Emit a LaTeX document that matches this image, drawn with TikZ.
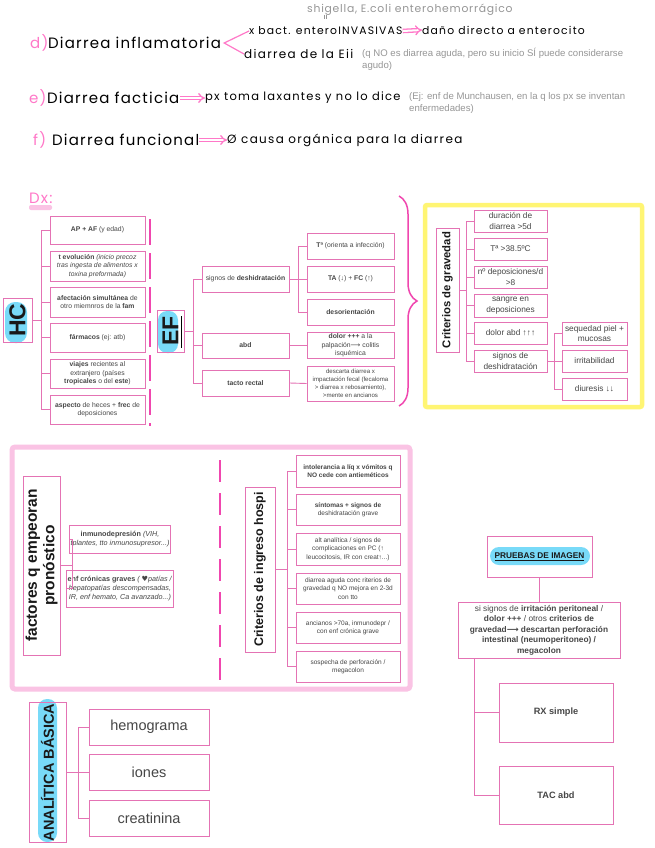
\documentclass[tikz,border=0pt]{standalone}
\usepackage{fontspec}
\setmainfont{Liberation Sans}
\newfontfamily\handA[LetterSpace=8]{Poppins}
\newfontfamily\handB[LetterSpace=11]{Poppins}
\newfontfamily\handC[LetterSpace=7]{Poppins}
\newfontfamily\sym{DejaVu Sans}
\usetikzlibrary{arrows.meta,decorations.pathreplacing}
\definecolor{bpink}{RGB}{228,115,180}
\definecolor{dpink}{RGB}{240,70,175}
\definecolor{lpink}{RGB}{250,195,228}
\definecolor{hpink}{RGB}{255,120,200}
\definecolor{ylw}{RGB}{255,245,115}
\definecolor{cyn}{RGB}{120,218,248}
\definecolor{tg}{RGB}{70,70,70}
\definecolor{ng}{RGB}{150,150,150}
\definecolor{lblk}{RGB}{25,25,25}
\newcommand{\Bx}[7][]{\node[bx,#1,minimum width={#5-#3},minimum height={#6-#4}] (#2) at ({(#3+#5)/2},{(#4+#6)/2}) {#7};}
\newcommand{\Lb}[7][]{\node[lbl,#1,minimum width={#6-#4},minimum height={#5-#3}] (#2) at ({(#3+#5)/2},{(#4+#6)/2}) {#7};}
\begin{document}
\begin{tikzpicture}[x=1pt,y=-1pt,
 bx/.style={draw=bpink, line width=0.9pt, fill=white, text=tg, align=center, inner sep=1pt, font=\fontsize{6.8}{8.4}\selectfont},
 ln/.style={draw=bpink, line width=0.9pt},
 lbl/.style={draw=bpink, line width=0.9pt, rotate=90, align=center, inner sep=1pt, text=lblk},
 hw/.style={anchor=west, inner sep=0pt, font=\handB\fontsize{12}{14}\selectfont, text=black},
 hwsm/.style={hw, font=\handB\fontsize{10.8}{13}\selectfont},
 hwbig/.style={hw, font=\handA\fontsize{15}{17}\selectfont},
 note/.style={anchor=north west, inner sep=0pt, align=left, text=ng, font=\fontsize{9.6}{12}\selectfont},
 dbl/.style={draw=hpink, double=white, double distance=2pt, line width=1.3pt, -{Implies}},
 pdash/.style={draw=dpink, line width=2pt, dash pattern=on 26pt off 8pt},
 fG/.style={font=\fontsize{8.3}{10.3}\selectfont},
 fH/.style={font=\fontsize{6.5}{8.3}\selectfont},
 fF/.style={font=\fontsize{7.2}{9}\selectfont},
 fP/.style={font=\fontsize{8.3}{10.5}\selectfont},
 fL/.style={font=\fontsize{14.5}{16}\selectfont},
]
\fill[white] (0,0) rectangle (655,848);
\useasboundingbox (0,0) rectangle (655,848);

% ---------- top handwritten part ----------
\node[hwbig, text=hpink] (dl) at (30,43) {d)};
\node[hwbig] (dinf) at (48,43) {Diarrea inflamatoria};
\node[hwsm] (bact) at (249,31) {x bact. enteroINVASIVAS};
\node[hwsm] (dano) at (422,30) {daño directo a enterocito};
\node[hw, text=ng, font=\handC\fontsize{10.8}{12}\selectfont] (shig) at (307,10) {shigella, E.coli enterohemorrágico};
\draw[ng, line width=0.5pt] (324,15) -- (324,19) (326.5,15) -- (326.5,19);
\node[hw] (eii) at (244,54) {diarrea de la Eii};
\node[note] (n1) at (362,48) {(q NO es diarrea aguda, pero su inicio SÍ puede considerarse\\agudo)};
\draw[draw=hpink, line width=1.2pt] (bact.west) -- ([xshift=3pt]dinf.east) -- (eii.west);
\draw[dbl] (bact.east) -- (dano.west);

\node[hwbig, text=hpink] (el) at (29,98) {e)};
\node[hwbig] (dfac) at (47,98) {Diarrea facticia};
\node[hw, font=\handB\fontsize{11.5}{14}\selectfont] (px) at (205,98) {px toma laxantes y no lo dice};
\node[note] (n2) at (409,92) {(Ej: enf de Munchausen, en la q los px se inventan\\enfermedades)};
\draw[dbl] (dfac.east) -- (px.west);

\node[hwbig, text=hpink] (fl) at (33,140) {f)};
\node[hwbig] (dfun) at (52,140) {Diarrea funcional};
\node[hw] (caus) at (227,140) {Ø causa orgánica para la diarrea};
\draw[dbl] (dfun.east) -- (caus.west);

% ---------- Dx ----------
\fill[lpink, rounded corners=2pt] (29,205) rectangle (52,210);
\node[hwbig, text=hpink] (dx) at (29,198) {Dx:};

% HC
\fill[cyn, rounded corners=10pt] (5,302) rectangle (27,343);
\Lb[font=\fontsize{23}{25}\selectfont\bfseries]{hc}{3}{298}{32}{342}{HC}
\Bx{hc1}{50}{216}{145}{244}{\textbf{AP + AF} (y edad)}
\Bx{hc2}{50}{251}{145}{281}{\textbf{t evolución} \textit{(inicio precoz}\\\textit{tras ingesta de alimentos x}\\\textit{toxina preformada)}}
\Bx{hc3}{50}{287}{145}{317}{\textbf{afectación simultánea} de\\otro miemnros de la \textbf{fam}}
\Bx{hc4}{50}{323}{145}{352}{\textbf{fármacos} (ej: atb)}
\Bx{hc5}{50}{359}{145}{388}{\textbf{viajes} recientes al\\extranjero (países\\\textbf{tropicales} o del \textbf{este})}
\Bx{hc6}{50}{395}{145}{424}{\textbf{aspecto} de heces + \textbf{frec} de\\deposiciones}
\draw[ln] (hc.south) -- ++(9,0) coordinate (hcj);
\foreach \n in {hc1,hc2,hc3,hc4,hc5,hc6} \draw[ln] (hcj) |- (\n.west);

\draw[pdash] (150,219) -- (150,426);

% EF
\fill[cyn, rounded corners=9pt] (158,311) rectangle (178,353);
\Lb[font=\fontsize{23}{25}\selectfont\bfseries]{ef}{157}{310}{184}{352}{EF}
\draw[black, line width=0.6pt] (181,316) -- (181,348);
\Bx{ef1}{202}{266}{289}{292}{signos de \textbf{deshidratación}}
\Bx{ef2}{202}{333}{289}{358}{\textbf{abd}}
\Bx{ef3}{202}{370}{289}{396}{\textbf{tacto rectal}}
\draw[ln] (ef.south) -- ++(9,0) coordinate (efj);
\foreach \n in {ef1,ef2,ef3} \draw[ln] (efj) |- (\n.west);
\Bx{t1}{307}{233}{394}{259}{\textbf{Tª} (orienta a infección)}
\Bx{t2}{307}{266}{394}{292}{\textbf{TA} (↓) + \textbf{FC} (↑)}
\Bx{t3}{307}{299}{394}{325}{\textbf{desorientación}}
\draw[ln] (ef1.east) -- ++(9,0) coordinate (tj);
\foreach \n in {t1,t2,t3} \draw[ln] (tj) |- (\n.west);
\Bx{d1}{307}{333}{394}{358}{\textbf{dolor +++} a la\\palpación{\sym ⟶} colitis\\isquémica}
\Bx[font=\fontsize{6.1}{7.8}\selectfont]{d2}{307}{366}{394}{401}{descarta diarrea x\\impactación fecal (fecaloma\\> diarrea x rebosamiento),\\>mente en ancianos}
\draw[ln] (ef2.east) -- (d1.west);
\draw[ln] (ef3.east) -- (d2.west);

\draw[dpink, line width=1.5pt, decorate, decoration={brace, amplitude=18pt}] (399,196) -- (399,406);

% Criterios de gravedad
\draw[ylw, line width=4.5pt, rounded corners=2pt] (425,205) rectangle (642,407);
\Lb[font=\fontsize{11.3}{13}\selectfont\bfseries]{cg}{436}{228}{459}{352}{Criterios de gravedad}
\Bx[fG]{g1}{474}{210}{547}{232}{duración de\\diarrea >5d}
\Bx[fG]{g2}{474}{238}{547}{260}{Tª >38.5ºC}
\Bx[fG]{g3}{474}{266}{547}{288}{nº deposiciones/d\\>8}
\Bx[fG]{g4}{474}{294}{547}{317}{sangre en\\deposiciones}
\Bx[fG]{g5}{474}{322}{547}{344}{dolor abd ↑↑↑}
\Bx[fG]{g6}{474}{350}{547}{372}{signos de\\deshidratación}
\draw[ln] (cg.south) -- ++(7,0) coordinate (cgj);
\foreach \n in {g1,g2,g3,g4,g5,g6} \draw[ln] (cgj) |- (\n.west);
\Bx[fG]{s1}{562}{322}{627}{345}{sequedad piel +\\mucosas}
\Bx[fG]{s2}{562}{350}{627}{372}{irritabilidad}
\Bx[fG]{s3}{562}{378}{627}{400}{diuresis ↓↓}
\draw[ln] (g6.east) -- ++(7,0) coordinate (sj);
\foreach \n in {s1,s2,s3} \draw[ln] (sj) |- (\n.west);

% ---------- big pink frame ----------
\draw[lpink, line width=5pt, rounded corners=3pt] (12,447) rectangle (410,689);
\draw[pdash, dash pattern=on 22pt off 11pt] (220,460) -- (220,680);

\Lb[font=\fontsize{15.5}{17.5}\selectfont\bfseries]{fq}{23}{476}{60}{655}{factores q empeoran\\pronóstico}
\Bx[fF]{f1}{83}{525}{157}{553}{\textbf{inmunodepresión} \textit{(VIH,}\\\textit{tplantes, tto inmunosupresor...)}}
\Bx[fF]{f2}{83}{570}{157}{607}{\textbf{enf crónicas graves} \textit{( {\sym ♥}patías /}\\\textit{hepatopatías descompensadas,}\\\textit{IR, enf hemato, Ca avanzado...)}}
\draw[ln] (fq.south) -- ++(12,0) coordinate (fqj);
\foreach \n in {f1,f2} \draw[ln] (fqj) |- (\n.west);

\Lb[font=\fontsize{12.5}{14}\selectfont\bfseries]{ci}{245}{487}{275}{652}{Criterios de ingreso hospi}
\Bx[fH]{h1}{296}{455}{400}{487}{\textbf{intolerancia a líq x vómitos q}\\\textbf{NO cede con antieméticos}}
\Bx[fH]{h2}{296}{494}{400}{525}{\textbf{síntomas + signos de}\\deshidratación grave}
\Bx[fH]{h3}{296}{533}{400}{565}{alt analítica / signos de\\complicaciones en PC (↑\\leucocitosis, IR con creat↑...)}
\Bx[fH]{h4}{296}{573}{400}{604}{diarrea aguda conc riterios de\\gravedad q NO mejora en 2-3d\\con tto}
\Bx[fH]{h5}{296}{612}{400}{643}{ancianos >70a, inmunodepr /\\con enf crónica grave}
\Bx[fH]{h6}{296}{651}{400}{682}{sospecha de perforación /\\megacolon}
\draw[ln] (ci.south) -- ++(12,0) coordinate (cij);
\foreach \n in {h1,h2,h3,h4,h5,h6} \draw[ln] (cij) |- (\n.west);

% ---------- Pruebas de imagen ----------
\Bx[fP]{pi}{487}{536}{592}{577}{}
\fill[cyn, rounded corners=9pt] (490,547) rectangle (590,565);
\node[fP, text=lblk, inner sep=0pt] (pit) at (pi.center) {\underline{\textbf{PRUEBAS DE IMAGEN}}};
\Bx[fP]{si}{458}{602}{620}{658}{si signos de \textbf{irritación peritoneal} /\\\textbf{dolor +++} / otros \textbf{criterios de}\\\textbf{gravedad{\sym ⟶} descartan perforación}\\\textbf{intestinal (neumoperitoneo) /}\\\textbf{megacolon}}
\draw[ln] (pi.south) -- (pi.south |- si.north);
\Bx[font=\fontsize{9.2}{11}\selectfont]{rx}{499}{683}{613}{742}{\textbf{RX simple}}
\Bx[font=\fontsize{9.2}{11}\selectfont]{tac}{499}{766}{613}{824}{\textbf{TAC abd}}
\draw[ln] ([xshift=17pt]si.south west) coordinate (sij) |- (rx.west);
\draw[ln] (sij) |- (tac.west);

% ---------- Analitica basica ----------
\fill[cyn, rounded corners=9pt] (38,699) rectangle (57,842);
\Lb[font=\fontsize{14.5}{16}\selectfont\bfseries]{an}{29}{703}{66}{842}{ANALÍTICA BÁSICA}
\Bx[fL]{a1}{89}{709}{209}{745}{hemograma}
\Bx[fL]{a2}{89}{754}{209}{790}{iones}
\Bx[fL]{a3}{89}{800}{209}{836}{creatinina}
\draw[ln] (an.south) -- ++(12,0) coordinate (anj);
\foreach \n in {a1,a2,a3} \draw[ln] (anj) |- (\n.west);
\end{tikzpicture}
\end{document}
